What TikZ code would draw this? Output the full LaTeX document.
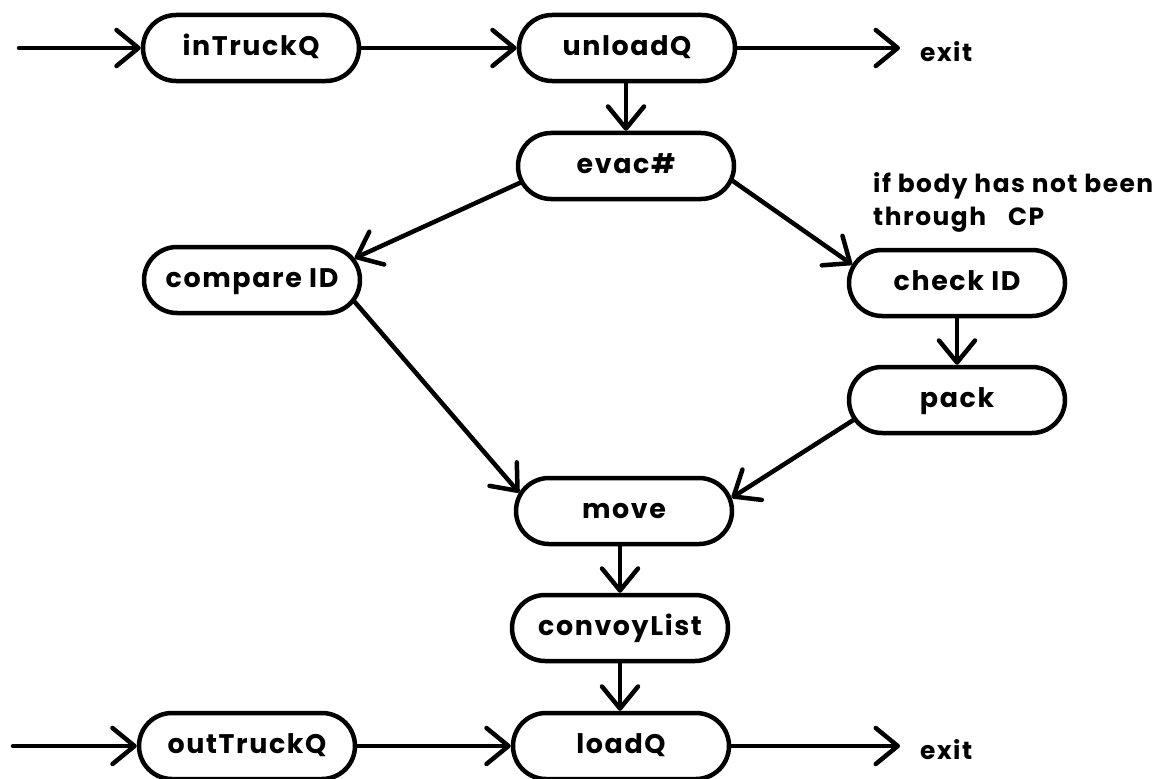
\documentclass[tikz,border=0pt]{standalone}
\usepackage{fontspec}
\setmainfont{Poppins}[LetterSpace=6]
\usetikzlibrary{arrows.meta,shapes.misc}
\begin{document}
\begin{tikzpicture}[x=1bp,y=-1bp,
  proc/.style={rounded rectangle, draw, line width=4.5bp,
    minimum width=216bp, minimum height=66bp, inner sep=0pt,
    text height=20bp, text depth=5bp,
    font=\fontsize{27}{32}\selectfont\bfseries},
  flow/.style={line width=4.5bp, line cap=round, line join=round,
    -{Straight Barb[length=22bp,width=36bp,round]}},
  lbl/.style={inner sep=0pt, font=\fontsize{25}{33}\selectfont\bfseries},
  exitlbl/.style={lbl, anchor=west, inner xsep=20bp, inner ysep=0pt}]
\useasboundingbox (0,0) rectangle (1174,779);

% process boxes
\node[proc] (inTruckQ)   at (251,48)  {inTruckQ};
\node[proc] (unloadQ)    at (627,48)  {unloadQ};
\node[proc] (evac)       at (626,166) {evac\#};
\node[proc] (compareID)  at (252,280) {compare ID};
\node[proc] (checkID)    at (957,283) {check ID};
\node[proc] (pack)       at (957,400) {pack};
\node[proc] (move)       at (624,511) {move};
\node[proc] (convoyList) at (620,628) {convoyList};
\node[proc] (outTruckQ)  at (247,746) {outTruckQ};
\node[proc] (loadQ)      at (621,746) {loadQ};

% outgoing labels and note
\node[exitlbl] (exitTop) at (900,52)  {exit};
\node[exitlbl] (exitBot) at (900,750) {exit};
\node[lbl, anchor=north west, align=left] (note) at (873,172)
  {if body has not been\\through\hspace{22bp}CP};

% entry points
\coordinate (inTop) at (19,48);
\coordinate (inBot) at (13,746);

% top row
\draw[flow] (inTop) -- (inTruckQ.west);
\draw[flow] (inTruckQ.east) -- (unloadQ.west);
\draw[flow] (unloadQ.east) -- (unloadQ.east -| exitTop.west);
\draw[flow] (unloadQ.south -| evac.north) -- (evac.north);

% branches
\draw[flow] (evac.189) -- (compareID.12);
\draw[flow] (evac.-8) -- (checkID.170);
\draw[flow] (checkID.south) -- (pack.north);
\draw[flow] (compareID.-12) -- (move.170);
\draw[flow] (pack.191) -- (move.7);

% merge and bottom row
\draw[flow] (move.south -| convoyList.north) -- (convoyList.north);
\draw[flow] (convoyList.south) -- (convoyList.south |- loadQ.north);
\draw[flow] (inBot) -- (outTruckQ.west);
\draw[flow] (outTruckQ.east) -- (loadQ.west);
\draw[flow] (loadQ.east) -- (loadQ.east -| exitBot.west);
\end{tikzpicture}
\end{document}
